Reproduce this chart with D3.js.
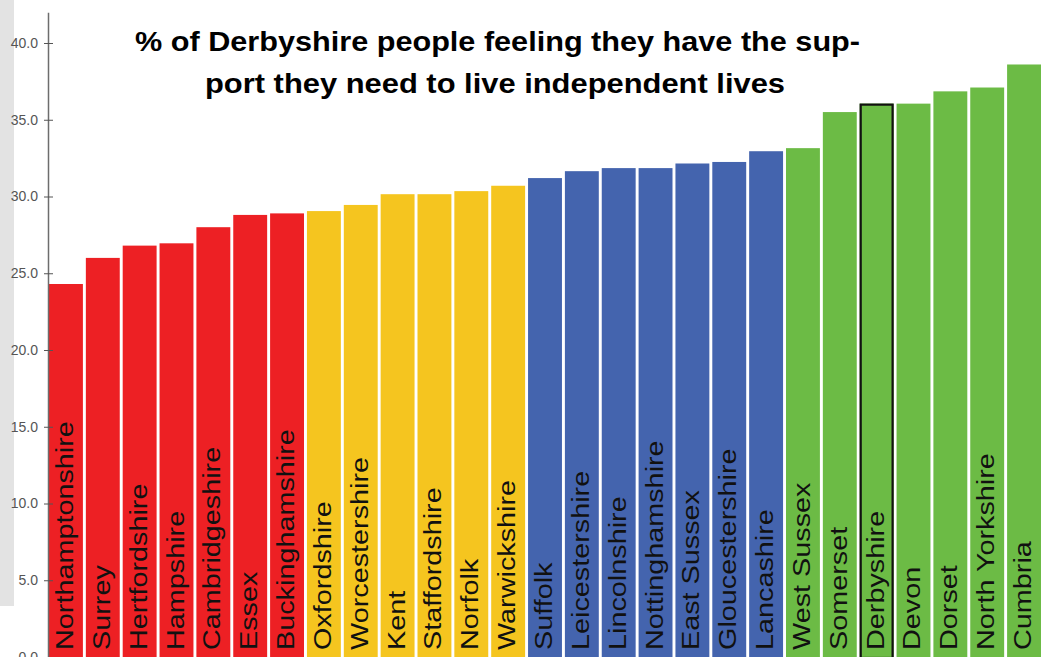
<!DOCTYPE html>
<html><head><meta charset="utf-8">
<script src="https://cdn.jsdelivr.net/npm/d3@7"></script>
<style>
html,body{margin:0;padding:0;background:#fff;}
svg{display:block;}
</style></head>
<body>
<svg id="chart" width="1045" height="657"></svg>
<script>
const counties = ["Northamptonshire","Surrey","Hertfordshire","Hampshire","Cambridgeshire","Essex","Buckinghamshire","Oxfordshire","Worcestershire","Kent","Staffordshire","Norfolk","Warwickshire","Suffolk","Leicestershire","Lincolnshire","Nottinghamshire","East Sussex","Gloucestershire","Lancashire","West Sussex","Somerset","Derbyshire","Devon","Dorset","North Yorkshire","Cumbria"];
const values = [24.3,26.0,26.8,26.95,28.0,28.8,28.9,29.05,29.45,30.15,30.15,30.35,30.7,31.2,31.65,31.85,31.85,32.15,32.25,32.95,33.15,35.5,36.05,36.05,36.85,37.1,38.6];
const groups = ["q1","q1","q1","q1","q1","q1","q1","q2","q2","q2","q2","q2","q2","q3","q3","q3","q3","q3","q3","q3","q4","q4","q4","q4","q4","q4","q4"];
const groupNames = ["q1","q2","q3","q4"];
const groupColors = ["#ed2024","#f5c51f","#4464ae","#6cbb45"];
const highlight = "Derbyshire";
const yTicks = [0,5,10,15,20,25,30,35,40];
const titleLines = ["% of Derbyshire people feeling they have the sup-","port they need to live independent lives"];

const svg = d3.select("#chart");
const data = counties.map((c,i)=>({c, v:values[i], g:groups[i]}));

// left grey strip
svg.append("rect").attr("x",0).attr("y",0).attr("width",14).attr("height",606).attr("fill","#e3e3e3");

const x = d3.scaleBand().domain(counties).range([49,1041]).paddingInner(0.08).paddingOuter(0);
const y = d3.scaleLinear().domain([0,42]).range([657,12.3]);
const color = d3.scaleOrdinal().domain(groupNames).range(groupColors);

svg.append("g").selectAll("rect").data(data).join("rect")
  .attr("x",d=>x(d.c)).attr("y",d=>y(d.v))
  .attr("width",x.bandwidth()).attr("height",d=>y(0)-y(d.v))
  .attr("fill",d=>color(d.g));

// highlight outline
svg.append("g").selectAll("rect").data(data.filter(d=>d.c===highlight)).join("rect")
  .attr("x",d=>x(d.c)+1).attr("y",d=>y(d.v)+1)
  .attr("width",x.bandwidth()-2).attr("height",d=>y(0)-y(d.v))
  .attr("fill","none").attr("stroke","#111").attr("stroke-width",2.2);

// bar labels
svg.append("g").selectAll("text").data(data).join("text")
  .attr("transform",d=>`translate(${x(d.c)+x.bandwidth()/2+7},650) rotate(-90) scale(1.2,1)`)
  .attr("font-family","Liberation Sans, Arial, sans-serif")
  .attr("font-size",24)
  .attr("fill","#111")
  .text(d=>d.c);

// axis
const axis = d3.axisLeft(y).tickValues(yTicks).tickFormat(d3.format(".1f")).tickSizeInner(4).tickSizeOuter(0);
const ag = svg.append("g").attr("transform","translate(48,0)").call(axis);
ag.select(".domain").attr("stroke","#6d6d6d").attr("stroke-width",1.5);
ag.selectAll(".tick line").attr("stroke","#555").attr("x2",5).attr("x1",-4);
ag.selectAll(".tick text").attr("x",-10).attr("fill","#555")
  .attr("font-family","Liberation Sans Narrow, Arial Narrow, Liberation Sans, sans-serif").attr("font-size",14);

// title
const tl = [[135,860,51],[205,785,93]];
svg.append("g").selectAll("text").data(titleLines).join("text")
  .attr("x",(d,i)=>tl[i][0]).attr("y",(d,i)=>tl[i][2])
  .attr("textLength",(d,i)=>tl[i][1]-tl[i][0]).attr("lengthAdjust","spacingAndGlyphs")
  .attr("font-family","Liberation Sans, Arial, sans-serif").attr("font-weight","bold")
  .attr("font-size",28).attr("fill","#000")
  .text(d=>d);
</script>
</body></html>
